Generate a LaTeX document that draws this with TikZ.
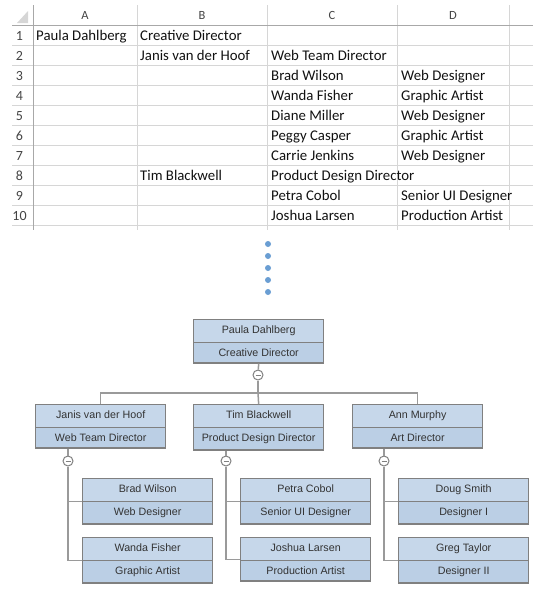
\documentclass[tikz,border=0pt]{standalone}
\usepackage{fontspec}
\setmainfont{Carlito}
\newfontfamily\chartfont{Liberation Sans}
\usetikzlibrary{shapes.multipart,positioning}

\definecolor{gridline}{HTML}{D6D6D6}
\definecolor{headline}{HTML}{A8A8A8}
\definecolor{headtext}{HTML}{444444}
\definecolor{celltext}{HTML}{111111}
\definecolor{boxtop}{HTML}{C6D7EA}
\definecolor{boxbot}{HTML}{BBCFE5}
\definecolor{boxline}{HTML}{808080}
\definecolor{linkgrey}{HTML}{9A9A9A}
\definecolor{dotblue}{HTML}{6A9ED3}
\definecolor{charttext}{HTML}{333333}

\begin{document}
\begin{tikzpicture}[x=1pt,y=-1pt,
	cell/.style={anchor=base west,inner sep=0pt,text=celltext,font=\fontsize{14.8}{16}\selectfont},
	head/.style={anchor=base,inner sep=0pt,text=headtext,font=\fontsize{12.5}{14}\selectfont},
	person/.style={draw=boxline,line width=1.3pt,rectangle split,rectangle split parts=2,
		rectangle split part fill={boxtop,boxbot},minimum width=130pt,
		text height=8pt,text depth=2.5pt,inner ysep=5.6pt,inner xsep=2pt,
		text=charttext,font=\chartfont\fontsize{10.7}{12}\selectfont,anchor=north west},
	minus/.style={circle,draw=boxline,fill=white,line width=1pt,minimum size=10pt,inner sep=0pt,
		path picture={\draw[boxline,line width=1pt] ([xshift=2.5pt]path picture bounding box.west) -- ([xshift=-2.5pt]path picture bounding box.east);}},
	link/.style={draw=linkgrey,line width=1.5pt}]
	\useasboundingbox (0,0) rectangle (547,595);
	
	% spreadsheet grid
	\foreach \y in {45,65,...,225} \draw[gridline,line width=1pt] (12,\y) -- (533,\y);
	\foreach \x in {137,267,397,509} \draw[gridline,line width=1pt] (\x,5) -- (\x,230);
	\draw[headline,line width=1pt] (12,25) -- (533,25);
	\draw[headline,line width=1pt] (33,5) -- (33,230);
	\fill[gridline] (17,23) -- (28,23) -- (28,11) -- cycle;
	
	\node[head] (hA) at (85,19) {A};
	\node[head] (hB) at (202,19) {B};
	\node[head] (hC) at (332,19) {C};
	\node[head] (hD) at (453,19) {D};
	\foreach \r in {1,...,10} \node[head,font=\fontsize{14}{16}\selectfont] (r\r) at (19.5,20+20*\r) {\r};
	
	\node[cell] (A1) at (36,40) {Paula Dahlberg};
	\node[cell] (B1) at (140,40) {Creative Director};
	\node[cell] (B2) at (140,60) {Janis van der Hoof};
	\node[cell] (C2) at (271,60) {Web Team Director};
	\node[cell] (C3) at (271,80) {Brad Wilson};
	\node[cell] (D3) at (401,80) {Web Designer};
	\node[cell] (C4) at (271,100) {Wanda Fisher};
	\node[cell] (D4) at (401,100) {Graphic Artist};
	\node[cell] (C5) at (271,120) {Diane Miller};
	\node[cell] (D5) at (401,120) {Web Designer};
	\node[cell] (C6) at (271,140) {Peggy Casper};
	\node[cell] (D6) at (401,140) {Graphic Artist};
	\node[cell] (C7) at (271,160) {Carrie Jenkins};
	\node[cell] (D7) at (401,160) {Web Designer};
	\node[cell] (B8) at (140,180) {Tim Blackwell};
	\node[cell] (C8) at (271,180) {Product Design Director};
	\node[cell] (C9) at (271,200) {Petra Cobol};
	\node[cell] (D9) at (401,200) {Senior UI Designer};
	\node[cell] (C10) at (271,220) {Joshua Larsen};
	\node[cell] (D10) at (401,220) {Production Artist};
	
	% ellipsis
	\foreach \y in {244,256,...,292} \fill[dotblue] (268,\y) circle (3pt);
	
	% org chart
	\node[person] (PD) at (193,319) {Paula Dahlberg\nodepart{two}Creative Director};
	\node[person] (JH) at (35,404) {Janis van der Hoof\nodepart{two}Web Team Director};
	\node[person] (TB) at (193,404) {Tim Blackwell\nodepart{two}Product Design Director};
	\node[person] (AM) at (352,404) {Ann Murphy\nodepart{two}Art Director};
	\node[person] (BW) at (82,478) {Brad Wilson\nodepart{two}Web Designer};
	\node[person] (WF) at (82,537) {Wanda Fisher\nodepart{two}Graphic Artist};
	\node[person] (PC) at (240,478) {Petra Cobol\nodepart{two}Senior UI Designer};
	\node[person] (JL) at (240,537) {Joshua Larsen\nodepart{two}Production Artist};
	\node[person] (DS) at (398,478) {Doug Smith\nodepart{two}Designer I};
	\node[person] (GT) at (398,537) {Greg Taylor\nodepart{two}Designer II};
	
	\node[minus] (PDm) at (258,375) {};
	\node[minus] (JHm) at (68,461) {};
	\node[minus] (TBm) at (226,461) {};
	\node[minus] (AMm) at (384,461) {};
	\coordinate (bar) at (258,393);
	
	\draw[link] (PD.south) -- (PDm);
	\draw[link] (PDm) -- (bar);
	\draw[link] (JH.north) |- (bar) -| (AM.north);
	\draw[link] (bar) -- (TB.north);
	
	\draw[link] (JH.south -| JHm) -- (JHm);
	\draw[link] (JHm) |- (BW.west);
	\draw[link] (JHm) |- (WF.west);
	\draw[link] (TB.south -| TBm) -- (TBm);
	\draw[link] (TBm) |- (PC.west);
	\draw[link] (TBm) |- (JL.west);
	\draw[link] (AM.south -| AMm) -- (AMm);
	\draw[link] (AMm) |- (DS.west);
	\draw[link] (AMm) |- (GT.west);
\end{tikzpicture}
\end{document}
